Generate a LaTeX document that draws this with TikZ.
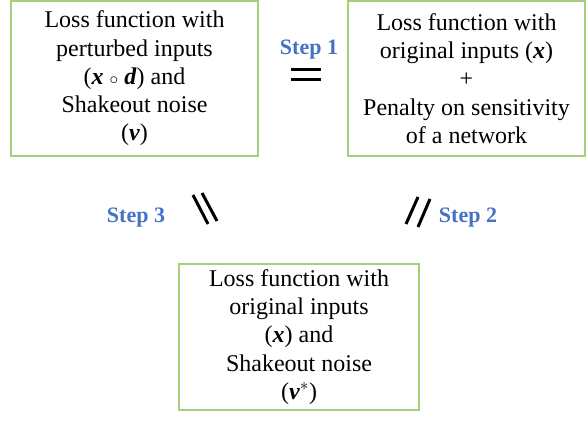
\documentclass[tikz,border=0pt]{standalone}
\usepackage{fontspec}
\setmainfont{Liberation Serif}
\definecolor{boxgreen}{RGB}{165,207,120}
\definecolor{stepblue}{RGB}{68,114,196}
\newcommand{\bv}[1]{\textbf{\textit{#1}}}
\begin{document}
\begin{tikzpicture}[x=1pt,y=1pt,
  lossbox/.style={draw=boxgreen,line width=1.5pt,align=center,inner sep=0pt,
    font=\fontsize{24}{28.2}\selectfont},
  steplabel/.style={text=stepblue,font=\fontsize{22}{24}\selectfont\bfseries,inner sep=0pt},
  eqbar/.style={line width=3pt}]
\useasboundingbox (0,0) rectangle (586,422);
\node[lossbox,minimum width=247pt,minimum height=155pt] (a) at (134.5,343.5)
  {Loss function with\\perturbed inputs\\(\bv{x} ${\scriptstyle\circ}$ \bv{d}) and\\Shakeout noise\\(\bv{v})};
\node[lossbox,minimum width=237pt,minimum height=155pt] (b) at (466.5,343.5)
  {Loss function with\\original inputs (\bv{x})\\+\\Penalty on sensitivity\\of a network};
\node[lossbox,minimum width=240pt,minimum height=146pt] (c) at (299,85)
  {Loss function with\\original inputs\\(\bv{x}) and\\Shakeout noise\\(\bv{v}$^{*}$)};
\node[steplabel] (s1) at (309,372) {Step 1};
\node[steplabel] (s2) at (468,204) {Step 2};
\node[steplabel] (s3) at (136,204) {Step 3};
\draw[eqbar] (291,352.5) -- (321,352.5);
\draw[eqbar] (291,342) -- (321,342);
\draw[eqbar] (193,227) -- (208,198);
\draw[eqbar] (202,229) -- (217,201);
\draw[eqbar] (418,225) -- (406,198);
\draw[eqbar] (430,223) -- (418,195);
\end{tikzpicture}
\end{document}
